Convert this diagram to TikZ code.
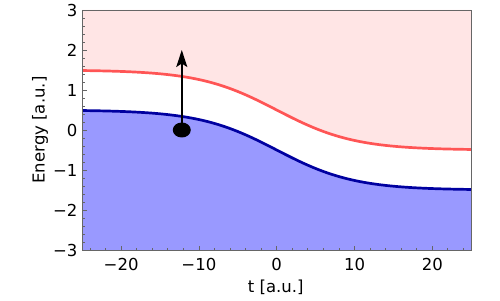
\documentclass[tikz,border=0pt]{standalone}
\usepackage{fontspec}
\setmainfont{DejaVu Sans}
\usetikzlibrary{arrows.meta,shapes.geometric}
\definecolor{pinkfill}{HTML}{FFE5E5}
\definecolor{bluefill}{HTML}{9999FF}
\definecolor{redline}{HTML}{FF5555}
\definecolor{blueline}{HTML}{0000A0}
\definecolor{framegray}{HTML}{666666}
\tikzset{
  curve/.style={line width=2.7pt},
  ticklab/.style={font=\fontsize{16.5}{18}\selectfont, inner sep=0pt},
  majortick/.style={draw=framegray, line width=0.8pt},
  minortick/.style={draw=framegray, line width=0.8pt},
}
\begin{document}
\begin{tikzpicture}[x=1pt,y=1pt]
\useasboundingbox (0,0) rectangle (500,300);
\begin{scope}[shift={(276.7,170)}, x=7.78pt, y=40pt]
  % fills
  \fill[pinkfill] (-25,3) -- plot[domain=-25:25, samples=121] (\x, {0.5 - tanh(\x/10)}) -- (25,3) -- cycle;
  \fill[bluefill] (-25,-3) -- plot[domain=-25:25, samples=121] (\x, {-0.5 - tanh(\x/10)}) -- (25,-3) -- cycle;
  % curves
  \draw[curve, redline] plot[domain=-25:25, samples=121] (\x, {0.5 - tanh(\x/10)});
  \draw[curve, blueline] plot[domain=-25:25, samples=121] (\x, {-0.5 - tanh(\x/10)});
  % x ticks
  \foreach \t in {-20,-10,0,10,20} {
    \draw[majortick] (\t,-3) -- ++(0,4.3pt);
    \node[ticklab, anchor=base] at ([yshift=-20pt]\t,-3) {\ifnum\t<0 −\the\numexpr-\t\relax\else\t\fi};
  }
  \foreach \t in {-24,-22,-18,-16,-14,-12,-8,-6,-4,-2,2,4,6,8,12,14,16,18,22,24} {
    \draw[minortick] (\t,-3) -- ++(0,2.4pt);
  }
  % y ticks
  \foreach \e in {-3,-2,-1,0,1,2,3} {
    \draw[majortick] (-25,\e) -- ++(4.3pt,0);
    \node[ticklab, anchor=base east] at ([xshift=-4.6pt,yshift=-6.3pt]-25,\e) {\ifnum\e<0 −\the\numexpr-\e\relax\else\e\fi};
  }
  \foreach \e in {-3,-2,-1,0,1,2} {
    \foreach \m in {0.2,0.4,0.6,0.8} {
      \draw[minortick] (-25,\e+\m) -- ++(2.4pt,0);
    }
  }
  % frame
  \draw[framegray, line width=0.9pt] (-25,-3) rectangle (25,3);
  % axis labels
  \node[ticklab, anchor=base] (xlab) at ([xshift=-1pt,yshift=-42.7pt]0,-3) {t [a.u.]};
  \node[ticklab, anchor=base, rotate=90] (ylab) at ([xshift=-37.7pt]-25,0) {Energy [a.u.]};
  % particle and arrow
  \node[ellipse, fill=black, minimum width=18pt, minimum height=15pt, inner sep=0pt] (dot) at (-12.2,0) {};
  \coordinate (tip) at (-12.2,2);
  \draw[line width=1.8pt, -{Stealth[length=17pt, width=11pt, inset=3.5pt]}] (dot.center) -- (tip);
\end{scope}
\end{tikzpicture}
\end{document}
